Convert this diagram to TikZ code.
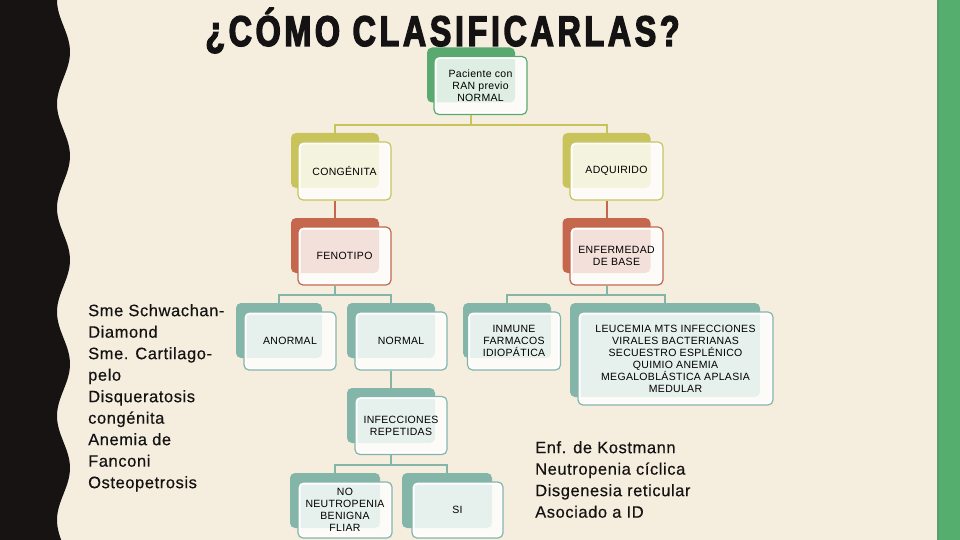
\documentclass[tikz,border=0pt]{standalone}
\usepackage{fontspec}
\setmainfont{Liberation Sans}
\newfontfamily\boxfont{Liberation Sans}[LetterSpace=3]
\newfontfamily\sidefont{Liberation Sans}[LetterSpace=3.5,FakeBold=0.4]
\newfontfamily\titlefont{Liberation Sans}[FakeStretch=0.75,LetterSpace=8.5,BoldFeatures={FakeBold=3}]
\usepackage{tikz}
\definecolor{cream}{HTML}{F5EEDF}
\definecolor{band}{HTML}{161312}
\definecolor{stripe}{HTML}{55AE6E}
\definecolor{stripeedge}{HTML}{5E9C70}
\definecolor{lvlgreen}{HTML}{5AAA6F}
\definecolor{lvlolive}{HTML}{C8C35B}
\definecolor{lvlrust}{HTML}{C4674C}
\definecolor{lvlteal}{HTML}{84B5A9}
\definecolor{inktext}{HTML}{141212}
\tikzset{
  backbox/.style={fill=#1, rounded corners=5pt, minimum width=88pt, minimum height=55pt, inner sep=0pt},
  frontbox/.style={draw=#1, line width=1.2pt, fill=white, fill opacity=0.8, text opacity=1, rounded corners=5pt, minimum width=93pt, minimum height=58pt, inner sep=2pt, align=center, font=\boxfont\fontsize{10.5}{12}\selectfont,
    path picture={\draw[white, line width=5pt, rounded corners=5pt] (path picture bounding box.south west) rectangle (path picture bounding box.north east);}},
  link/.style={draw=#1, line width=2pt},
  sidetext/.style={anchor=north west, align=left, inner sep=0pt, text=inktext, font=\sidefont\fontsize{16.5}{21.5}\selectfont}
}
\begin{document}
\begin{tikzpicture}[x=1pt, y=-1pt]
  \useasboundingbox (0,0) rectangle (960,540);
  \fill[cream] (0,0) rectangle (960,540);
  \fill[band] (0,0) -- plot[domain=0:540, samples=120, smooth] ({63.5-6.5*cos(3.4615*\x)},\x) -- (0,540) -- cycle;
  \fill[stripe] (937,0) rectangle (960,540);
  \draw[stripeedge, line width=1.5pt] (937.75,0) -- (937.75,540);

  \node[anchor=base, inner sep=0pt, text=inktext, font=\titlefont\bfseries\fontsize{43}{43}\selectfont] (title) at (442.5,46) {¿CÓMO CLASIFICARLAS?};

  \node[backbox=lvlgreen] (pac) at (471,75) {};
  \node[frontbox=lvlgreen] (pacf) at (480.5,85.5) {Paciente con\\RAN previo\\NORMAL};

  \node[backbox=lvlolive] (cong) at (335,160.5) {};
  \node[frontbox=lvlolive] (congf) at (344.5,171) {CONGÉNITA};
  \node[backbox=lvlolive] (adq) at (606.5,160.5) {};
  \node[frontbox=lvlolive] (adqf) at (616.5,171) {ADQUIRIDO};

  \node[backbox=lvlrust] (feno) at (335,245.5) {};
  \node[frontbox=lvlrust] (fenof) at (344.5,256) {FENOTIPO};
  \node[backbox=lvlrust] (enf) at (606.5,245.5) {};
  \node[frontbox=lvlrust] (enff) at (616.5,256) {ENFERMEDAD\\DE BASE};

  \node[backbox=lvlteal, minimum width=86pt] (anor) at (279,330.5) {};
  \node[frontbox=lvlteal, minimum width=92pt] (anorf) at (290,341) {ANORMAL};
  \node[backbox=lvlteal] (norm) at (391,330.5) {};
  \node[frontbox=lvlteal, minimum width=92pt] (normf) at (401,341) {NORMAL};
  \node[backbox=lvlteal] (inm) at (507,330.5) {};
  \node[frontbox=lvlteal] (inmf) at (514,341) {INMUNE\\FARMACOS\\IDIOPÁTICA};
  \node[backbox=lvlteal, minimum width=190pt, minimum height=94pt] (leu) at (665,350) {};
  \node[frontbox=lvlteal, minimum width=195pt, minimum height=93pt] (leuf) at (675.5,358.5) {LEUCEMIA MTS INFECCIONES\\VIRALES BACTERIANAS\\SECUESTRO ESPLÉNICO\\QUIMIO ANEMIA\\MEGALOBLÁSTICA APLASIA\\MEDULAR};

  \node[backbox=lvlteal] (inf) at (391,415.5) {};
  \node[frontbox=lvlteal, minimum width=92pt] (inff) at (401,425.5) {INFECCIONES\\REPETIDAS};

  \node[backbox=lvlteal, minimum width=90pt] (nobn) at (335,500.5) {};
  \node[frontbox=lvlteal, minimum width=94pt, minimum height=56pt] (nobnf) at (345,510) {NO\\NEUTROPENIA\\BENIGNA\\FLIAR};
  \node[backbox=lvlteal, minimum width=90pt] (si) at (447,500.5) {};
  \node[frontbox=lvlteal, minimum width=91pt, minimum height=56pt] (sif) at (457.5,510) {SI};

  \draw[link=lvlolive] (pacf.south -| pac.north) -- ++(0,9.5) -| (cong.north);
  \draw[link=lvlolive] (pacf.south -| pac.north) -- ++(0,9.5) -| (adq.north);
  \draw[link=lvlrust] (congf.south -| cong.north) -- (feno.north);
  \draw[link=lvlrust] (adqf.south -| adq.north) -- (enf.north);
  \draw[link=lvlteal] (fenof.south -| feno.north) -- ++(0,9) -| (anor.north);
  \draw[link=lvlteal] (fenof.south -| feno.north) -- ++(0,9) -| (norm.north);
  \draw[link=lvlteal] (enff.south -| enf.north) -- ++(0,9) -| (inm.north);
  \draw[link=lvlteal] (enff.south -| enf.north) -- ++(0,9) -| (leu.north);
  \draw[link=lvlteal] (normf.south -| norm.north) -- (inf.north);
  \draw[link=lvlteal] (inff.south -| inf.north) -- ++(0,10) -| (nobn.north);
  \draw[link=lvlteal] (inff.south -| inf.north) -- ++(0,10) -| (si.north);

  \node[sidetext] (congnames) at (88,304) {Sme Schwachan-\\Diamond\\Sme. Cartilago-\\pelo\\Disqueratosis\\congénita\\Anemia de\\Fanconi\\Osteopetrosis};
  \node[sidetext] (sinames) at (535,441) {Enf. de Kostmann\\Neutropenia cíclica\\Disgenesia reticular\\Asociado a ID};
\end{tikzpicture}
\end{document}
